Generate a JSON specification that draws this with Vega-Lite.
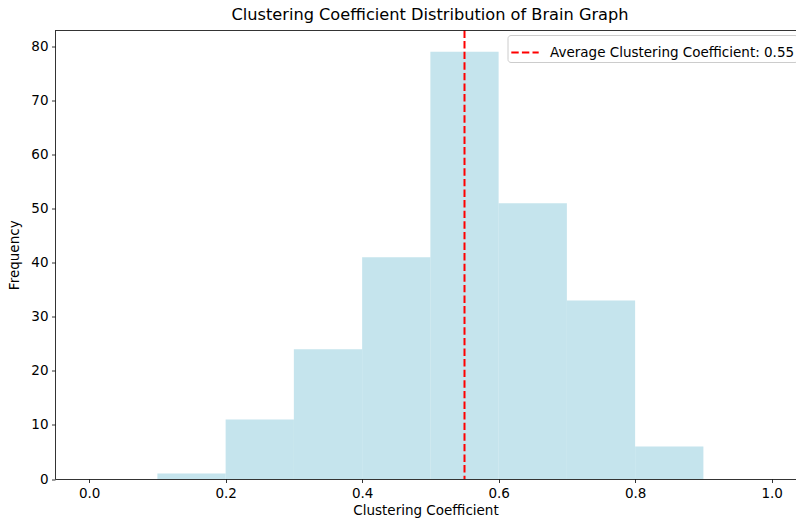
{
  "$schema": "https://vega.github.io/schema/vega-lite/v6.json",
  "autosize": {"type": "none"},
  "width": 741,
  "height": 448.5,
  "padding": {"left": 55, "top": 30.5, "right": 0, "bottom": 43},
  "background": "white",
  "config": {
    "font": "DejaVu Sans",
    "view": {"stroke": null},
    "axis": {"labelFont": "DejaVu Sans", "titleFont": "DejaVu Sans", "labelFontSize": 13.5, "titleFontSize": 13.5, "titleFontWeight": "normal", "labelColor": "#000", "titleColor": "#000", "tickColor": "#000", "domainColor": "#000", "domainWidth": 0.8, "tickWidth": 0.8, "tickSize": 3.5, "grid": false, "labelPadding": 3.5}
  },
  "title": {"text": "Clustering Coefficient Distribution of Brain Graph", "fontSize": 16.2, "fontWeight": "normal", "font": "DejaVu Sans", "color": "#000", "anchor": "middle", "dx": 4.5, "offset": 6},
  "layer": [
    {
      "data": {"values": [
        {"bin_start": 0.0, "bin_end": 0.1, "count": 0},
        {"bin_start": 0.1, "bin_end": 0.2, "count": 1},
        {"bin_start": 0.2, "bin_end": 0.3, "count": 11},
        {"bin_start": 0.3, "bin_end": 0.4, "count": 24},
        {"bin_start": 0.4, "bin_end": 0.5, "count": 41},
        {"bin_start": 0.5, "bin_end": 0.6, "count": 79},
        {"bin_start": 0.6, "bin_end": 0.7, "count": 51},
        {"bin_start": 0.7, "bin_end": 0.8, "count": 33},
        {"bin_start": 0.8, "bin_end": 0.9, "count": 6},
        {"bin_start": 0.9, "bin_end": 1.0, "count": 0}
      ]},
      "mark": {"type": "rect", "color": "#add8e6", "opacity": 0.7},
      "encoding": {
        "x": {"field": "bin_start", "type": "quantitative", "scale": {"domain": [-0.05, 1.0357], "nice": false, "zero": false},
          "axis": {"title": "Clustering Coefficient", "values": [0, 0.2, 0.4, 0.6, 0.8, 1.0], "format": ".1f", "titlePadding": 4}},
        "x2": {"field": "bin_end"},
        "y": {"field": "count", "type": "quantitative", "scale": {"domain": [0, 82.95], "nice": false},
          "axis": {"title": "Frequency", "values": [0, 10, 20, 30, 40, 50, 60, 70, 80], "titlePadding": 9}},
        "y2": {"datum": 0}
      }
    },
    {
      "data": {"values": [{"avg": 0.55, "label": "Average Clustering Coefficient: 0.55"}]},
      "mark": {"type": "rule", "strokeDash": [7.4, 3.2], "strokeWidth": 2},
      "encoding": {
        "x": {"field": "avg", "type": "quantitative"},
        "stroke": {"field": "label", "type": "nominal", "scale": {"range": ["#ff0000"]},
          "legend": {"title": null, "orient": "none", "legendX": 452.5, "legendY": 4.5, "symbolType": "stroke", "symbolDash": [7.4, 3.2], "symbolStrokeWidth": 2, "symbolSize": 750, "labelFontSize": 13.5, "labelFont": "DejaVu Sans", "labelColor": "#000", "labelLimit": 400, "fillColor": "white", "strokeColor": "#cccccc", "cornerRadius": 3, "padding": 2.5, "labelOffset": 10}}
      }
    },
    {
      "data": {"values": [{"t": 0}]},
      "mark": {"type": "rule", "color": "#000", "strokeWidth": 0.8},
      "encoding": {"y": {"datum": 82.95}}
    }
  ]
}
